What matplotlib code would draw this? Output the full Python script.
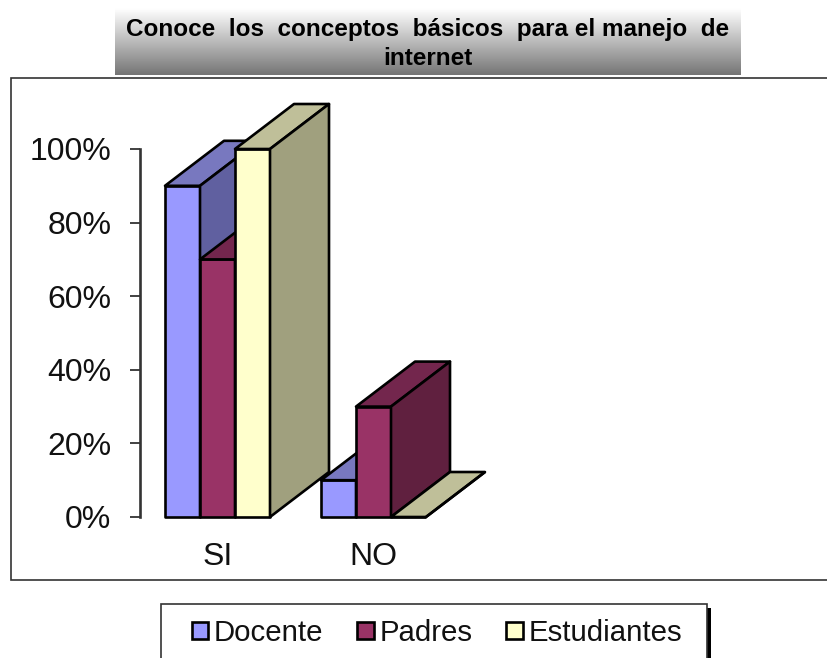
import numpy as np
import matplotlib
matplotlib.use('Agg')
import matplotlib.pyplot as plt
from matplotlib.patches import Polygon, Patch, Rectangle

plt.rcParams['font.family'] = ['Liberation Sans', 'DejaVu Sans']

# double spaces stand in for the justified first line
titulo = 'Conoce  los  conceptos  básicos  para el manejo  de\ninternet'
categorias = ['SI', 'NO']
series = ['Docente', 'Padres', 'Estudiantes']
docente = [90, 10]
padres = [70, 30]
estudiantes = [100, 0]
ticks_y = [0, 20, 40, 60, 80, 100]
ticks_y_txt = ['0%', '20%', '40%', '60%', '80%', '100%']

# front, top, side
col_docente = ['#9999ff', '#7878bf', '#6060a0']
col_padres = ['#993366', '#73264d', '#60203f']
col_estud = ['#ffffcc', '#bfbf99', '#a0a07e']

W, H = 827, 658
ancho = 35 / 156
dx = 59 / 156
dy = 45 / 3.68


def caja(x0, y0, x1, y1):
    # pixel box (top-left origin) to figure fractions
    return [x0 / W, 1 - y1 / H, (x1 - x0) / W, (y1 - y0) / H]


def barra(ax, x, v, cols):
    x1 = x + ancho
    ax.add_patch(Polygon([(x, 0), (x1, 0), (x1, v), (x, v)], closed=True,
                         fc=cols[0], ec='black', lw=1.9, clip_on=False, joinstyle='round'))
    ax.add_patch(Polygon([(x, v), (x1, v), (x1 + dx, v + dy), (x + dx, v + dy)], closed=True,
                         fc=cols[1], ec='black', lw=1.9, clip_on=False, joinstyle='round'))
    ax.add_patch(Polygon([(x1, 0), (x1 + dx, dy), (x1 + dx, v + dy), (x1, v)], closed=True,
                         fc=cols[2], ec='black', lw=1.9, clip_on=False, joinstyle='round'))


fig = plt.figure(figsize=(W / 100, H / 100), dpi=100)

# chart frame, runs off the right edge
fig.add_artist(Rectangle((11 / W, 1 - 580 / H), 830 / W, 502 / H, transform=fig.transFigure,
                         fc='white', ec='#333333', lw=1.2, zorder=-2))

# title banner with gradient
ban = fig.add_axes(caja(115, 8, 741, 75))
grad = np.linspace(1, 0.46, 100).reshape(-1, 1)
ban.imshow(grad, cmap='gray', vmin=0, vmax=1, aspect='auto', extent=[0, 1, 0, 1])
ban.axis('off')
ban.text(0.5, 0.46, titulo, ha='center', va='center', fontsize=17.5, fontweight='bold',
         linespacing=1.3, color='black')

ax = fig.add_axes(caja(139.5, 149, 451.5, 517))
ax.patch.set_alpha(0)
ax.set_xlim(-0.5, 1.5)
ax.set_ylim(0, 100)

for i in range(len(categorias)):
    x = i - 1.5 * ancho
    barra(ax, x, docente[i], col_docente)
    barra(ax, x + ancho, padres[i], col_padres)
    barra(ax, x + 2 * ancho, estudiantes[i], col_estud)

ax.set_xticks(range(len(categorias)))
ax.set_xticklabels(categorias, fontsize=23, color='#111111')
ax.tick_params(axis='x', length=0, pad=18)
ax.set_yticks(ticks_y)
ax.set_yticklabels(ticks_y_txt, fontsize=23, color='#111111')
ax.tick_params(axis='y', length=7.2, width=1.3, color='#333333', pad=13)
for s in ['top', 'right', 'bottom']:
    ax.spines[s].set_visible(False)
ax.spines['left'].set_linewidth(1.9)
ax.spines['left'].set_color('#333333')

# legend box, cut by the bottom of the picture
fig.add_artist(Rectangle((707 / W, 1 - 670 / H), 4 / W, 62 / H, transform=fig.transFigure,
                         fc='black', ec='none', zorder=-2))
fig.add_artist(Rectangle((161 / W, 1 - 670 / H), 546 / W, 66 / H, transform=fig.transFigure,
                         fc='white', ec='#333333', lw=1.2, zorder=-2))
handles = [Patch(fc=col_docente[0], ec='black', lw=1.9),
           Patch(fc=col_padres[0], ec='black', lw=1.9),
           Patch(fc=col_estud[0], ec='black', lw=1.9)]
fig.legend(handles, series, ncol=3, frameon=False, fontsize=21.2, loc='center',
           bbox_to_anchor=(437 / W, 1 - 633 / H), handlelength=0.55, handleheight=0.55,
           handletextpad=0.2, columnspacing=1.15, borderpad=0, labelcolor='#111111')

fig.savefig('out.png', dpi=100)
